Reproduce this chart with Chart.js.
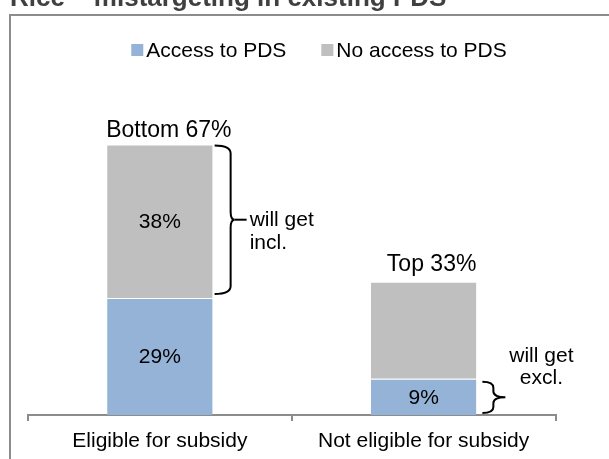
<!DOCTYPE html>
<html>
<head>
<meta charset="utf-8">
<script src="https://cdn.jsdelivr.net/npm/chart.js@4.4.0/dist/chart.umd.min.js"></script>
<style>
  html, body { margin: 0; padding: 0; background: #fff; }
  #wrap { width: 609px; height: 459px; }
</style>
</head>
<body>
<div id="wrap"><canvas id="chart" width="609" height="459"></canvas></div>
<script>
const titleText = "Rice – mistargeting in existing PDS";
const categories = ["Eligible for subsidy", "Not eligible for subsidy"];
const seriesNames = ["Access to PDS", "No access to PDS"];
const accessValues = [29, 9];
const noAccessValues = [38, 24];
const accessLabels = ["29%", "9%"];
const noAccessLabels = ["38%", ""];
const groupLabels = ["Bottom 67%", "Top 33%"];
const braceNotes = [["will get", "incl."], ["will get", "excl."]];

const FONT = '"Liberation Sans", Arial, sans-serif';
const BLUE = "#95b3d7";
const GRAY = "#bfbfbf";
const AXIS = "#8c8c8c";

function drawBrace(ctx, x0, xs, xt, yTop, yBot, r) {
    const yMid = (yTop + yBot) / 2;
    ctx.beginPath();
    ctx.moveTo(x0, yTop);
    ctx.quadraticCurveTo(xs, yTop, xs, yTop + r);
    ctx.lineTo(xs, yMid - r);
    ctx.quadraticCurveTo(xs, yMid, xt, yMid);
    ctx.quadraticCurveTo(xs, yMid, xs, yMid + r);
    ctx.lineTo(xs, yBot - r);
    ctx.quadraticCurveTo(xs, yBot, x0, yBot);
    ctx.stroke();
    return yMid;
}

const decorations = {
    id: "decorations",
    beforeDraw(chart) {
        const ctx = chart.ctx;
        ctx.save();
        // title, clipped at the top of the picture
        ctx.fillStyle = "#404040";
        ctx.font = "bold 26px " + FONT;
        ctx.textAlign = "left";
        ctx.textBaseline = "alphabetic";
        ctx.fillText(titleText, 10, 6);
        // frame
        ctx.strokeStyle = AXIS;
        ctx.lineWidth = 2;
        ctx.beginPath();
        ctx.moveTo(10, 460);
        ctx.lineTo(10, 15);
        ctx.lineTo(610, 15);
        ctx.stroke();
        // legend
        ctx.font = "21px " + FONT;
        const ds = chart.data.datasets;
        const box = 12, gap = 3, spacing = 35;
        let total = 0;
        ds.forEach((d, i) => {
            total += box + gap + ctx.measureText(d.label).width;
            if (i < ds.length - 1) total += spacing;
        });
        let x = 319 - total / 2;
        ds.forEach(d => {
            ctx.fillStyle = d.backgroundColor;
            ctx.fillRect(x, 44, box, box);
            ctx.fillStyle = "#000";
            ctx.fillText(d.label, x + box + gap, 57);
            x += box + gap + ctx.measureText(d.label).width + spacing;
        });
        ctx.restore();
    },
    afterDatasetsDraw(chart) {
        const ctx = chart.ctx;
        const low = chart.getDatasetMeta(0).data;
        const high = chart.getDatasetMeta(1).data;
        ctx.save();
        ctx.font = "21px " + FONT;
        ctx.fillStyle = "#000";
        ctx.textAlign = "center";
        ctx.textBaseline = "middle";
        low.forEach((bar, i) => {
            if (accessLabels[i]) ctx.fillText(accessLabels[i], bar.x, (bar.y + bar.base) / 2 + 1);
        });
        high.forEach((bar, i) => {
            if (noAccessLabels[i]) ctx.fillText(noAccessLabels[i], bar.x, (bar.y + bar.base) / 2 + 1);
        });
        // group labels above the stacks
        ctx.font = "23px " + FONT;
        ctx.textBaseline = "alphabetic";
        ctx.fillText(groupLabels[0], high[0].x + 9, high[0].y - 7);
        ctx.fillText(groupLabels[1], high[1].x + 8, high[1].y - 11);

        // braces
        ctx.font = "21px " + FONT;
        ctx.strokeStyle = "#000";
        ctx.lineWidth = 2;
        const b0 = high[0];
        const e0 = b0.x + b0.width / 2;
        const m0 = drawBrace(ctx, e0 + 2, e0 + 18, e0 + 22, b0.y + 1, b0.base - 4, 8);
        ctx.beginPath();
        ctx.moveTo(e0 + 22, m0);
        ctx.lineTo(e0 + 34, m0);
        ctx.stroke();
        ctx.textAlign = "left";
        ctx.fillText(braceNotes[0][0], e0 + 37, m0 + 6);
        ctx.fillText(braceNotes[0][1], e0 + 37, m0 + 29);

        const b1 = low[1];
        const e1 = b1.x + b1.width / 2;
        const m1 = drawBrace(ctx, e1 + 6, e1 + 17, e1 + 29, b1.y + 3, b1.base - 2, 6);
        ctx.textAlign = "center";
        ctx.fillText(braceNotes[1][0], e1 + 65, m1 - 35);
        ctx.fillText(braceNotes[1][1], e1 + 65, m1 - 13);
        ctx.restore();
    }
};

new Chart(document.getElementById("chart"), {
    type: "bar",
    data: {
        labels: categories,
        datasets: [
            { label: seriesNames[0], data: accessValues, backgroundColor: BLUE,
              borderColor: "rgba(255,255,255,0.8)", borderWidth: { top: 1, left: 0, right: 0, bottom: 0 } },
            { label: seriesNames[1], data: noAccessValues, backgroundColor: GRAY,
              borderColor: "rgba(255,255,255,0.8)", borderWidth: { top: 1, left: 0, right: 0, bottom: 0 } }
        ]
    },
    options: {
        responsive: false,
        animation: false,
        categoryPercentage: 0.8,
        barPercentage: 0.5,
        layout: { padding: { left: 28, right: 53.5, top: 92, bottom: 0 } },
        plugins: {
            legend: { display: false },
            tooltip: { enabled: false }
        },
        scales: {
            x: {
                stacked: true,
                grid: { drawOnChartArea: false, drawTicks: true, tickLength: 6, color: AXIS, lineWidth: 2 },
                border: { display: true, color: AXIS, width: 2 },
                ticks: { color: "#000", font: { family: FONT, size: 21 }, padding: 8, maxRotation: 0 },
                afterFit: s => { s.height = 44; }
            },
            y: {
                stacked: true,
                display: false,
                min: 0,
                max: 80
            }
        }
    },
    plugins: [decorations]
});
</script>
</body>
</html>
